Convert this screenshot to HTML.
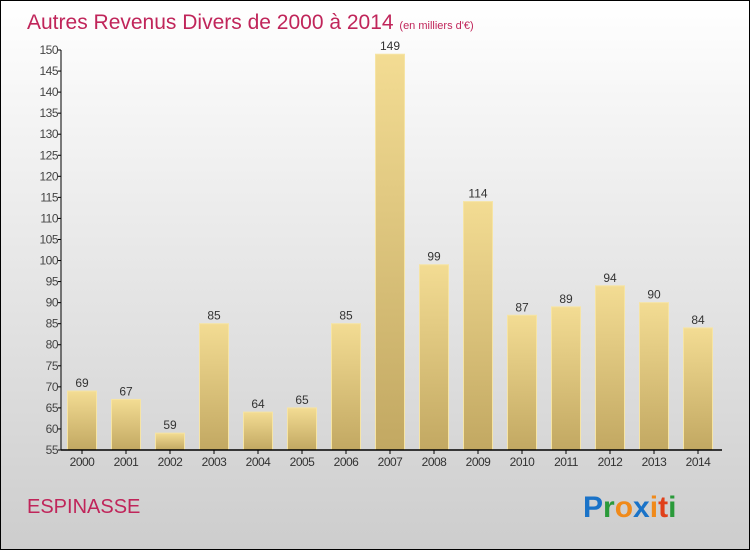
<!DOCTYPE html>
<html><head><meta charset="utf-8"><style>
body{margin:0}
#c{width:750px;height:550px;position:relative;font-family:"Liberation Sans",sans-serif;}
</style></head><body>
<div id="c">
<svg width="750" height="550" xmlns="http://www.w3.org/2000/svg" id="svg">
<defs>
<linearGradient id="bg" x1="0" y1="0" x2="0" y2="1"><stop offset="0" stop-color="#ffffff"/><stop offset="1" stop-color="#cdcdcd"/></linearGradient>
<linearGradient id="bar" x1="0" y1="0" x2="0" y2="1"><stop offset="0" stop-color="#f3dc93"/><stop offset="1" stop-color="#c2a862"/></linearGradient>
</defs>
<rect x="0.5" y="0.5" width="749" height="549" fill="url(#bg)" stroke="#000"/>
<text x="27" y="29" font-size="21" fill="#c0255a">Autres Revenus Divers de 2000 à 2014 <tspan font-size="11">(en milliers d'€)</tspan></text>
<g id="yaxis"></g><g id="bars"></g><g id="xaxis"></g>
<text x="27" y="513" font-size="20" fill="#c0255a">ESPINASSE</text>
<g font-size="30" font-weight="bold" font-family="Liberation Sans, sans-serif">
<text x="583" y="517"><tspan fill="#1a73c8">P</tspan><tspan fill="#2a9a3a">r</tspan><tspan fill="#f08a1a">o</tspan><tspan fill="#1a73c8">x</tspan><tspan fill="#f08a1a">i</tspan><tspan fill="#e0401a">t</tspan><tspan fill="#2a9a3a">i</tspan></text>
</g>
</svg>
</div>
<script>
const years=["2000","2001","2002","2003","2004","2005","2006","2007","2008","2009","2010","2011","2012","2013","2014"];
const values=[69,67,59,85,64,65,85,149,99,114,87,89,94,90,84];
const yTicks=[55,60,65,70,75,80,85,90,95,100,105,110,115,120,125,130,135,140,145,150];
const NS="http://www.w3.org/2000/svg";
const y=v=>450-(v-55)*400/95;
const x=i=>82+44*i;
function mk(t,a,p){const e=document.createElementNS(NS,t);for(const k in a)e.setAttribute(k,a[k]);p.appendChild(e);return e;}
const ya=document.getElementById('yaxis'),ba=document.getElementById('bars'),xa=document.getElementById('xaxis');
const ax=mk('line',{x1:61,y1:50,x2:61,y2:450,stroke:'#000','stroke-width':1},ya);


yTicks.forEach(v=>{
  const l=mk('line',{x1:58,x2:61,y1:y(v),y2:y(v),stroke:'#000'},ya);
  
  
  const t=mk('text',{x:58,y:y(v)+4,'font-size':12,fill:'#444','text-anchor':'end','letter-spacing':'-0.5'},ya);
  t.textContent=v;
  
  
});
const xl=mk('line',{x1:61,y1:450,x2:722,y2:450,stroke:'#000','stroke-width':1.5},xa);


values.forEach((v,i)=>{
  const r=mk('rect',{x:x(i)-14.5,y:y(v),width:29,height:450-y(v),fill:'url(#bar)',stroke:'#f6e4a4','stroke-width':1},ba);
  
  
  const t=mk('text',{x:x(i),y:y(v)-4,'font-size':12,fill:'#333','text-anchor':'middle'},ba);
  t.textContent=v;
  
  
  const tk=mk('line',{x1:x(i),x2:x(i),y1:450,y2:454,stroke:'#000'},xa);
  
  
  const xt=mk('text',{x:x(i),y:466,'font-size':12,fill:'#333','text-anchor':'middle','letter-spacing':'-0.5'},xa);
  xt.textContent=years[i];
  
  
});
</script>
</body></html>
